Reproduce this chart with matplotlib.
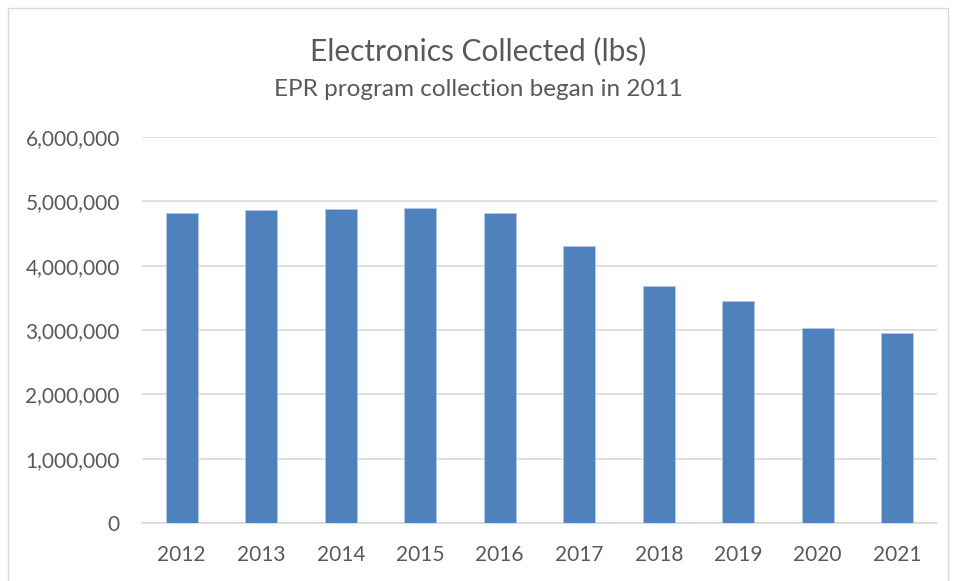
import matplotlib
matplotlib.use("Agg")

import matplotlib.pyplot as plt
from matplotlib.patches import Rectangle
from matplotlib.ticker import FuncFormatter, MultipleLocator

# data
years = ["2012", "2013", "2014", "2015", "2016", "2017", "2018", "2019", "2020", "2021"]
lbs_collected = [4820000, 4866000, 4887000, 4897000, 4813000,
                 4310000, 3680000, 3456000, 3026000, 2950000]

title = "Electronics Collected (lbs)"
subtitle = "EPR program collection began in 2011"

plt.rcParams["font.family"] = ["Lato", "DejaVu Sans"]
TEXT = "#595959"
BAR = "#4f81bd"

fig = plt.figure(figsize=(9.56, 5.81), dpi=100)
ax = fig.add_axes([142 / 956, 1 - 523 / 581, (937 - 142) / 956, (523 - 137) / 581])

x = range(len(years))
ax.bar(x, lbs_collected, width=0.4, color=BAR, edgecolor="#b4c7e7", linewidth=0.6, zorder=3)

ax.set_xlim(-0.5, len(years) - 0.5)
ax.set_ylim(0, 6000000)
ax.yaxis.set_major_locator(MultipleLocator(1000000))
ax.yaxis.set_major_formatter(FuncFormatter(lambda v, p: f"{int(v):,}"))
ax.set_xticks(list(x))
ax.set_xticklabels(years)

ax.grid(axis="y", color="#d9d9d9", linewidth=1.2, zorder=0)
for side in ["top", "right", "left"]:
    ax.spines[side].set_visible(False)
ax.spines["bottom"].set_color("#d9d9d9")
ax.spines["bottom"].set_linewidth(1.2)
ax.tick_params(axis="both", length=0, colors=TEXT, labelsize=15)
ax.tick_params(axis="x", pad=16)
ax.tick_params(axis="y", pad=16)

fig.text(0.5, 1 - 51 / 581, title, ha="center", va="center", fontsize=21.5, color=TEXT)
fig.text(0.5, 1 - 90 / 581, subtitle, ha="center", va="center", fontsize=17.5, color=TEXT)

# light frame around the chart like the original export
fig.patches.append(Rectangle((8 / 956, -0.01), 940 / 956, 1 - 8 / 581 + 0.01,
                             transform=fig.transFigure, fill=False,
                             edgecolor="#d9d9d9", linewidth=1))

fig.savefig("out.png", dpi=100, facecolor="white")
